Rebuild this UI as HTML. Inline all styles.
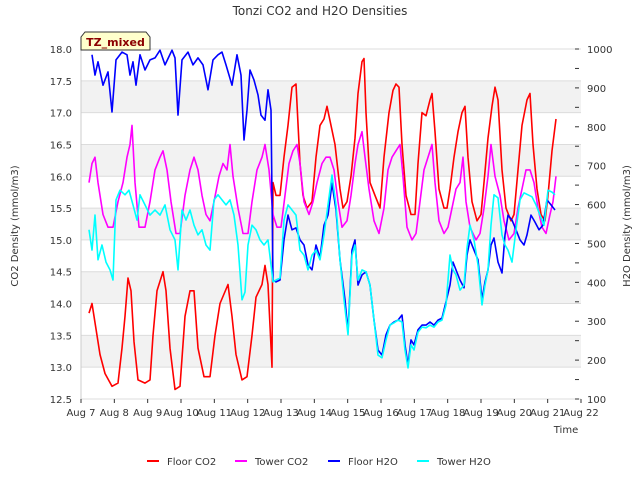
<!DOCTYPE html>
<html><head><meta charset="utf-8"><style>
body{margin:0;background:#fff;font-family:"DejaVu Sans","Liberation Sans",sans-serif;}
svg text{font-family:"DejaVu Sans","Liberation Sans",sans-serif;}
</style></head><body>
<svg id="c" width="640" height="480" xmlns="http://www.w3.org/2000/svg">
<text x="320" y="15" text-anchor="middle" font-size="12" fill="#333">Tonzi CO2 and H2O Densities</text>
<g id="grid"></g><g id="series"></g><g id="axes"></g>
<text transform="translate(18,226) rotate(-90)" text-anchor="middle" font-size="10" fill="#333">CO2 Density (mmol/m3)</text>
<text transform="translate(630,226) rotate(-90)" text-anchor="middle" font-size="10" fill="#333">H2O Density (mmol/m3)</text>
<text x="566" y="433" text-anchor="middle" font-size="10" fill="#333">Time</text>
<g>
<path d="M81,37 L85,32 L146,32 L150,37 L150,50 L81,50 Z" fill="#ffffcc" stroke="#333" stroke-width="1"/>
<text x="115.5" y="46" text-anchor="middle" font-size="11" font-weight="bold" fill="#8b0000">TZ_mixed</text>
</g>
<g id="legend"></g>
</svg>
<script>
const xTickLabels=["Aug 7","Aug 8","Aug 9","Aug 10","Aug 11","Aug 12","Aug 13","Aug 14","Aug 15","Aug 16","Aug 17","Aug 18","Aug 19","Aug 20","Aug 21","Aug 22"];
const leftTicks=[12.5,13.0,13.5,14.0,14.5,15.0,15.5,16.0,16.5,17.0,17.5,18.0];
const rightTicks=[100,200,300,400,500,600,700,800,900,1000];
const floorCO2T=[.24,.33,.42,.57,.72,.93,1.11,1.23,1.32,1.41,1.5,1.59,1.71,1.92,2.07,2.16,2.28,2.46,2.55,2.67,2.82,2.97,3.12,3.27,3.39,3.51,3.69,3.87,4.02,4.17,4.41,4.53,4.65,4.83,4.98,5.13,5.25,5.43,5.52,5.61,5.73,5.76,5.85,5.97,6.09,6.21,6.33,6.45,6.57,6.66,6.78,6.93,7.05,7.17,7.29,7.38,7.5,7.62,7.77,7.86,7.98,8.1,8.22,8.31,8.43,8.49,8.55,8.67,8.82,8.97,9.09,9.24,9.36,9.45,9.54,9.63,9.75,9.9,10.02,10.11,10.23,10.35,10.47,10.53,10.62,10.74,10.89,10.98,11.07,11.19,11.31,11.43,11.52,11.61,11.73,11.88,12.0,12.09,12.21,12.33,12.42,12.51,12.63,12.75,12.9,12.99,13.11,13.23,13.38,13.47,13.56,13.68,13.8,13.92,14.01,14.13,14.25];
const floorCO2=[13.85,14.0,13.7,13.2,12.9,12.7,12.75,13.3,13.8,14.4,14.2,13.4,12.8,12.75,12.8,13.5,14.2,14.5,14.2,13.3,12.65,12.7,13.8,14.2,14.2,13.3,12.85,12.85,13.5,14.0,14.3,13.8,13.2,12.8,12.85,13.5,14.1,14.3,14.6,14.3,13.0,15.9,15.7,15.7,16.3,16.8,17.4,17.45,16.2,15.7,15.5,15.6,16.3,16.8,16.9,17.1,16.8,16.5,15.8,15.5,15.6,16.0,16.6,17.3,17.8,17.85,17.0,15.9,15.7,15.5,16.3,17.0,17.35,17.45,17.4,16.5,15.7,15.4,15.4,16.2,17.0,16.95,17.2,17.3,16.7,15.8,15.5,15.5,15.8,16.3,16.7,17.0,17.1,16.3,15.6,15.3,15.4,15.9,16.6,17.1,17.4,17.2,16.1,15.5,15.3,15.4,16.1,16.8,17.2,17.3,16.5,15.8,15.4,15.3,15.7,16.4,16.9];
const towerCO2T=[.24,.33,.42,.51,.66,.81,.96,1.11,1.26,1.38,1.47,1.53,1.62,1.74,1.92,2.07,2.22,2.37,2.46,2.58,2.7,2.85,2.97,3.12,3.27,3.39,3.51,3.63,3.75,3.87,3.99,4.14,4.26,4.38,4.47,4.56,4.71,4.86,5.01,5.13,5.28,5.43,5.52,5.64,5.76,5.88,6.0,6.12,6.24,6.36,6.48,6.57,6.69,6.84,6.96,7.08,7.23,7.35,7.47,7.59,7.71,7.83,7.98,8.1,8.22,8.31,8.43,8.52,8.64,8.79,8.94,9.09,9.21,9.33,9.45,9.57,9.66,9.78,9.93,10.05,10.17,10.29,10.41,10.53,10.62,10.74,10.89,11.01,11.13,11.25,11.37,11.46,11.55,11.67,11.85,11.97,12.09,12.21,12.3,12.42,12.57,12.69,12.84,12.99,13.11,13.23,13.35,13.47,13.59,13.71,13.83,13.95,14.07,14.16,14.25];
const towerCO2=[15.9,16.2,16.3,15.9,15.4,15.2,15.2,15.6,15.9,16.3,16.5,16.8,15.9,15.2,15.2,15.6,16.1,16.3,16.4,16.1,15.6,15.1,15.1,15.7,16.1,16.3,16.1,15.7,15.4,15.3,15.6,16.0,16.2,16.1,16.5,16.0,15.5,15.1,15.1,15.6,16.1,16.3,16.5,16.1,15.4,15.2,15.2,15.7,16.2,16.4,16.5,16.2,15.6,15.4,15.6,15.9,16.2,16.3,16.3,16.1,15.6,15.2,15.3,15.7,16.2,16.5,16.7,16.3,15.8,15.3,15.1,15.5,16.1,16.3,16.4,16.5,16.0,15.2,15.0,15.1,15.6,16.1,16.3,16.5,15.9,15.3,15.1,15.2,15.5,15.8,15.9,16.3,15.6,15.2,15.0,15.1,15.5,16.0,16.5,16.0,15.7,15.3,15.0,15.1,15.5,15.8,16.1,16.1,15.9,15.5,15.2,15.1,15.4,15.6,16.0];
const floorH2OT=[.33,.42,.51,.66,.81,.93,1.05,1.23,1.38,1.47,1.56,1.65,1.77,1.92,2.07,2.22,2.37,2.52,2.73,2.82,2.91,3.03,3.21,3.36,3.51,3.66,3.81,3.96,4.11,4.23,4.35,4.53,4.68,4.8,4.89,4.98,5.07,5.19,5.31,5.4,5.52,5.61,5.7,5.76,5.85,5.97,6.09,6.21,6.33,6.45,6.57,6.69,6.81,6.93,7.05,7.17,7.29,7.41,7.53,7.65,7.77,7.92,8.01,8.13,8.22,8.31,8.43,8.55,8.67,8.79,8.91,9.03,9.15,9.27,9.39,9.51,9.63,9.72,9.81,9.9,9.99,10.11,10.23,10.35,10.47,10.59,10.71,10.83,10.95,11.07,11.16,11.25,11.37,11.49,11.58,11.67,11.79,11.91,12.03,12.12,12.21,12.3,12.39,12.51,12.63,12.72,12.81,12.93,13.05,13.17,13.29,13.38,13.5,13.62,13.74,13.86,13.98,14.1,14.22];
const floorH2O=[985,933,967,907,941,838,972,992,985,933,967,907,985,946,972,977,997,959,997,977,830,972,992,959,977,959,895,972,985,992,959,907,985,933,766,843,946,920,882,830,817,895,843,406,401,406,509,573,535,540,509,496,445,432,496,463,547,573,655,586,458,355,272,483,509,393,419,427,393,303,226,213,265,290,298,303,316,239,187,252,239,278,290,290,298,290,303,308,350,393,452,432,406,386,470,509,483,458,355,401,432,496,514,452,424,522,573,560,535,509,496,522,573,555,535,547,612,599,586];
const towerH2OT=[.24,.33,.42,.51,.63,.75,.87,.96,1.05,1.17,1.32,1.44,1.56,1.68,1.77,1.92,2.07,2.22,2.37,2.52,2.67,2.82,2.91,3.03,3.15,3.27,3.39,3.51,3.63,3.75,3.87,3.99,4.11,4.23,4.35,4.47,4.59,4.71,4.83,4.92,5.01,5.13,5.25,5.37,5.49,5.61,5.7,5.76,5.85,5.97,6.09,6.21,6.33,6.45,6.57,6.69,6.81,6.93,7.05,7.17,7.29,7.41,7.53,7.65,7.77,7.89,8.01,8.13,8.22,8.31,8.43,8.55,8.67,8.79,8.91,9.03,9.15,9.27,9.39,9.51,9.63,9.72,9.81,9.9,9.99,10.11,10.23,10.35,10.47,10.59,10.71,10.83,10.95,11.07,11.16,11.25,11.37,11.49,11.58,11.67,11.79,11.91,12.03,12.12,12.21,12.3,12.39,12.51,12.63,12.72,12.81,12.93,13.05,13.17,13.29,13.41,13.53,13.65,13.77,13.89,14.01,14.13,14.22];
const towerH2O=[535,483,573,458,496,452,432,406,612,637,625,637,599,560,625,599,573,586,573,599,535,509,432,586,560,586,547,522,535,496,483,612,625,612,599,612,573,496,355,375,496,547,535,509,496,509,445,401,406,411,560,599,586,573,483,470,432,470,483,458,522,599,676,599,458,355,265,470,496,406,432,427,393,303,213,206,252,290,296,303,298,226,180,239,226,272,285,283,290,285,298,303,342,470,432,419,380,393,488,547,509,445,342,393,432,547,625,617,522,496,483,452,535,612,630,625,620,599,573,547,637,632,625];

const X0=81,X1=581,Y0=399,Y1=49;
const xs=d=>X0+(X1-X0)*d/15;
const yL=v=>Y0-(v-12.5)*(Y0-Y1)/5.5;
const yR=v=>Y0-(v-100)*(Y0-Y1)/900;
const NS="http://www.w3.org/2000/svg";
function mk(tag,attrs,parent){const e=document.createElementNS(NS,tag);for(const k in attrs)e.setAttribute(k,attrs[k]);parent.appendChild(e);return e;}
const grid=document.getElementById('grid'),axes=document.getElementById('axes'),ser=document.getElementById('series'),leg=document.getElementById('legend');
for(let i=0;i<leftTicks.length-1;i++){
  if(i%2===1){const b=mk('rect',{x:X0,y:yL(leftTicks[i+1]),width:X1-X0,height:yL(leftTicks[i])-yL(leftTicks[i+1]),fill:'#f2f2f2'},grid);
  
  }
}
leftTicks.forEach(v=>{
  const l=mk('line',{x1:X0,x2:X1,y1:yL(v),y2:yL(v),stroke:'#dcdcdc','stroke-width':1},grid);
  
  
  const t=mk('text',{x:X0-9,y:yL(v)+4,'text-anchor':'end','font-size':10,fill:'#333'},axes);
  t.textContent=v.toFixed(1);
  
  
});
mk('line',{x1:X0,x2:X0,y1:Y1,y2:Y0,stroke:'#ccc','stroke-width':1},axes);
rightTicks.forEach(v=>{
  const t=mk('text',{x:X1+6,y:yR(v)+4,'text-anchor':'start','font-size':10,fill:'#333'},axes);
  t.textContent=String(v);
  
  
});
for(let v=100;v<=1000;v+=50){mk('line',{x1:X1-6,x2:X1-2,y1:yR(v),y2:yR(v),stroke:'#333','stroke-width':1},axes);}
xTickLabels.forEach((s,i)=>{
  mk('line',{x1:xs(i),x2:xs(i),y1:Y0,y2:Y0+4,stroke:'#333','stroke-width':1},axes);
  const t=mk('text',{x:xs(i),y:Y0+17,'text-anchor':'middle','font-size':10,fill:'#333'},axes);
  t.textContent=s;
  
  
});
function line(T,V,ys,color,name){
  const d=T.map((t,i)=>(i?'L':'M')+xs(t).toFixed(1)+','+ys(V[i]).toFixed(1)).join(' ');
  const p=mk('path',{d:d,fill:'none',stroke:color,'stroke-width':1.6,'stroke-linejoin':'round'},ser);
  
  
}
line(floorCO2T,floorCO2,yL,'#ff0000','floor-co2-line');
line(towerCO2T,towerCO2,yL,'#ff00ff','tower-co2-line');
line(floorH2OT,floorH2O,yR,'#0000ff','floor-h2o-line');
line(towerH2OT,towerH2O,yR,'#00ffff','tower-h2o-line');
const legItems=[["Floor CO2","#ff0000",147],["Tower CO2","#ff00ff",235],["Floor H2O","#0000ff",328],["Tower H2O","#00ffff",417]];
legItems.forEach(([s,c,x])=>{
  const g=mk('g',{},leg);
  
  
  mk('line',{x1:x,x2:x+12,y1:461,y2:461,stroke:c,'stroke-width':2},g);
  const t=mk('text',{x:x+20,y:465,'font-size':10,fill:'#333'},g);
  t.textContent=s;
});
</script>
</body></html>
